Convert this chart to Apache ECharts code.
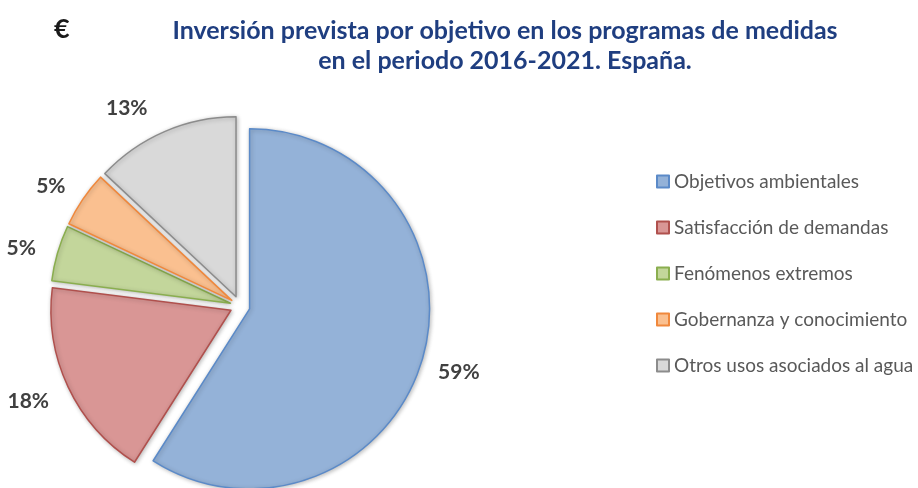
<!DOCTYPE html>
<html>
<head>
<meta charset="utf-8">
<script src="https://cdn.jsdelivr.net/npm/echarts@6/dist/echarts.min.js"></script>
<style>
  html, body { margin: 0; padding: 0; background: #ffffff; }
  #chart { width: 918px; height: 488px; }
</style>
</head>
<body>
<div id="chart"></div>
<script>
// Investment share by objective, Spanish programmes of measures 2016-2021
const categories = [
  'Objetivos ambientales',
  'Satisfacción de demandas',
  'Fenómenos extremos',
  'Gobernanza y conocimiento',
  'Otros usos asociados al agua'
];
const shares = [59, 18, 5, 5, 13];
const fillColors = ['#94B2D8', '#D99695', '#C3D69B', '#FAC090', '#D9D9D9'];
const edgeColors = ['#5B8AC8', '#B0504D', '#8AAE4F', '#F0883C', '#8C8C8C'];
// small label nudges [dx, dy] so the percentages sit like outside-end labels
const labelNudges = [[2, 10], [-6, 10], [-8, -2], [-5, -7], [-9, -14]];

const chart = echarts.init(document.getElementById('chart'), null, { renderer: 'canvas' });

const pieData = categories.map((name, i) => ({
  name: name,
  value: shares[i],
  selected: true,
  itemStyle: { color: fillColors[i], borderColor: edgeColors[i] }
}));

chart.setOption({
  animation: false,
  backgroundColor: '#ffffff',
  title: {
    text: 'Inversión prevista por objetivo en los programas de medidas\nen el periodo 2016-2021. España.',
    left: 500,
    top: 11,
    textAlign: 'center',
    textStyle: {
      fontFamily: 'Lato',
      fontWeight: 'bold',
      fontSize: 25,
      lineHeight: 30,
      color: '#1F3E80'
    }
  },
  graphic: [{
    type: 'text',
    left: 54,
    top: 16,
    style: {
      text: '€',
      fontFamily: 'Lato',
      fontWeight: 'bold',
      fontSize: 27,
      fill: '#1a1a1a'
    }
  }],
  legend: {
    orient: 'vertical',
    left: 651,
    top: 167,
    itemWidth: 12,
    itemHeight: 12,
    itemGap: 27,
    icon: 'rect',
    selectedMode: false,
    textStyle: {
      fontFamily: 'Lato',
      fontSize: 19,
      color: '#595959'
    },
    data: categories
  },
  series: [{
    type: 'pie',
    center: [240, 306],
    radius: 180,
    startAngle: 90,
    clockwise: true,
    selectedMode: 'multiple',
    selectedOffset: 10,
    avoidLabelOverlap: false,
    silent: true,
    itemStyle: {
      borderWidth: 1.5,
      shadowBlur: 4,
      shadowOffsetX: 1,
      shadowOffsetY: 1,
      shadowColor: 'rgba(0,0,0,0.25)'
    },
    label: {
      show: true,
      position: 'outside',
      formatter: '{c}%',
      fontFamily: 'Lato',
      fontWeight: 'bold',
      fontSize: 21,
      color: '#404040',
      distanceToLabelLine: 4
    },
    labelLine: { show: false, length: 10, length2: 0 },
    labelLayout: function (params) {
      const n = labelNudges[params.dataIndex];
      return { dx: n[0], dy: n[1] };
    },
    emphasis: { disabled: true },
    data: pieData
  }]
});
</script>
</body>
</html>
